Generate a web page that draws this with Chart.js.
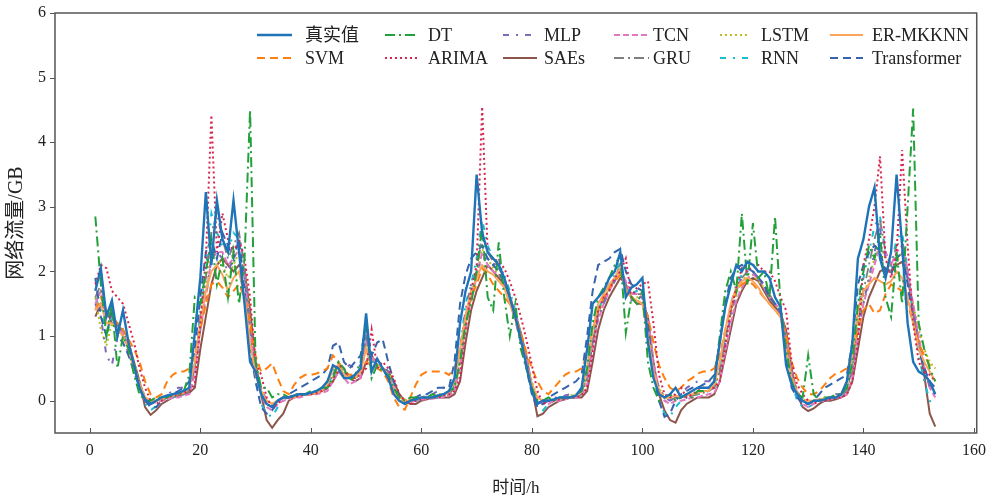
<!DOCTYPE html>
<html lang="zh">
<head>
<meta charset="UTF-8">
<title>网络流量预测对比</title>
<style>
  * { box-sizing: border-box; margin: 0; padding: 0; }
  html, body { width: 994px; height: 497px; background: #fff; overflow: hidden; }
  .wrap { position: relative; width: 994px; height: 497px; }
</style>
</head>
<body>
<div class="wrap"><canvas id="flowChart" width="994" height="497"></canvas></div>
<script src="https://cdn.jsdelivr.net/npm/chart.js@4.4.1/dist/chart.umd.min.js"></script>
<script>
// hour index 1..153
const hours = Array.from({ length: 153 }, (_, i) => i + 1);
const xTicks = [0, 20, 40, 60, 80, 100, 120, 140, 160];
const yTicks = [0, 1, 2, 3, 4, 5, 6];

const trueFlow = [
  1.7, 2.05, 1.3, 1.55, 1.0, 1.4, 0.9, 0.55, 0.2, 0.02,
  -0.05, 0.0, 0.05, 0.08, 0.1, 0.12, 0.15, 0.2, 1.05, 1.9,
  3.23, 2.1, 3.1, 2.5, 2.3, 3.1, 2.3, 1.5, 0.6, 0.45,
  0.1, -0.05, -0.1, 0.0, 0.05, 0.05, 0.08, 0.1, 0.1, 0.12,
  0.15, 0.2, 0.3, 0.55, 0.5, 0.35, 0.35, 0.4, 0.5, 1.35,
  0.45, 0.65, 0.5, 0.35, 0.1, 0.0, -0.05, 0.0, 0.02, 0.05,
  0.05, 0.05, 0.08, 0.1, 0.15, 0.35, 1.2, 1.7, 2.0, 3.5,
  2.6, 2.3, 2.2, 2.1, 1.9, 1.6, 1.3, 0.95, 0.55, 0.15,
  -0.05, 0.0, 0.0, 0.02, 0.05, 0.05, 0.05, 0.08, 0.2, 0.8,
  1.5, 1.6, 1.7, 1.9, 2.0, 2.3, 1.6, 1.75, 1.8, 1.9,
  0.9, 0.35, 0.1, 0.05, 0.1, 0.2, 0.05, 0.1, 0.15, 0.2,
  0.2, 0.2, 0.3, 0.9, 1.45, 1.8, 2.1, 2.0, 2.15, 2.1,
  2.0, 2.0, 1.9, 1.6, 1.45, 0.55, 0.25, 0.1, 0.0, -0.05,
  0.0, 0.0, 0.02, 0.05, 0.05, 0.1, 0.3, 0.9, 2.2, 2.5,
  3.0, 3.3, 2.2, 1.9, 2.3, 3.5, 2.4, 1.2, 0.6, 0.45,
  0.4, 0.3, 0.1
];

const svmPred = [
  1.4, 1.6, 1.4, 1.3, 1.2, 1.1, 0.95, 0.8, 0.6, 0.3,
  0.1, 0.05, 0.1, 0.3, 0.4, 0.45, 0.45, 0.5, 0.7, 1.1,
  1.5, 1.8, 1.85, 1.75, 1.6, 1.7, 1.8, 1.6, 1.2, 0.7,
  0.45, 0.5, 0.58, 0.35, 0.15, 0.1, 0.25, 0.35, 0.4, 0.4,
  0.42, 0.45, 0.5, 0.7, 0.6, 0.45, 0.4, 0.4, 0.45, 0.6,
  0.55, 0.5, 0.45, 0.3, 0.05, -0.1, -0.14, 0.05, 0.25, 0.4,
  0.45, 0.45, 0.45, 0.45, 0.4, 0.5, 0.8, 1.3, 1.6, 1.8,
  2.05, 1.95, 1.8, 1.7, 1.6, 1.5, 1.3, 1.05, 0.75, 0.5,
  0.3, 0.15, 0.1, 0.2, 0.3, 0.4, 0.45, 0.45, 0.5, 0.7,
  1.1, 1.4, 1.6, 1.75, 1.85, 1.95, 1.75, 1.6, 1.55, 1.5,
  1.3, 0.9, 0.55, 0.35, 0.2, 0.15, 0.2, 0.3, 0.35, 0.42,
  0.45, 0.45, 0.5, 0.7, 1.1, 1.45, 1.7, 1.8, 1.85, 1.8,
  1.7, 1.6, 1.5, 1.4, 1.3, 1.0, 0.6, 0.35, 0.2, 0.1,
  0.1, 0.15, 0.25, 0.35, 0.42, 0.45, 0.5, 0.7, 1.1, 1.4,
  1.5, 1.35, 1.4, 1.65, 1.8, 1.75, 1.7, 1.5, 1.2, 0.9,
  0.7, 0.55, 0.5
];

const dtPred = [
  2.85, 1.8, 1.0, 1.5, 0.5, 1.0, 0.8, 0.4, 0.1, 0.0,
  0.0, 0.05, 0.05, 0.05, 0.1, 0.1, 0.15, 0.4, 1.6, 1.5,
  2.0, 2.5, 1.8, 2.2, 1.6, 2.3, 1.5, 2.2, 4.5, 0.6,
  0.2, 0.2, 0.05, 0.1, 0.1, 0.05, 0.1, 0.1, 0.1, 0.15,
  0.15, 0.2, 0.2, 0.35, 0.6, 0.5, 0.3, 0.4, 0.6, 1.2,
  0.35, 0.55, 0.45, 0.4, 0.2, 0.05, 0.0, 0.05, 0.05, 0.05,
  0.05, 0.1, 0.05, 0.1, 0.15, 0.2, 0.6, 1.2, 1.5, 2.0,
  2.7, 1.6, 1.4, 2.45, 1.6, 1.0, 1.5, 0.8, 0.5, 0.2,
  0.0, 0.0, 0.05, 0.0, 0.05, 0.05, 0.05, 0.1, 0.15, 0.5,
  1.2, 1.6, 1.75, 1.9, 2.1, 2.25, 1.05, 1.6, 1.5, 1.7,
  0.6, 0.2, 0.0, 0.05, 0.1, 0.0, 0.05, 0.1, 0.05, 0.15,
  0.15, 0.2, 0.3, 1.0, 1.7, 2.0, 1.7, 2.9, 1.8, 2.75,
  1.9, 2.0, 1.6, 2.85, 1.5, 0.8, 0.3, 0.1, 0.05, 0.7,
  0.1, 0.0, 0.05, 0.05, 0.1, 0.1, 0.2, 0.6, 1.5, 2.0,
  2.4, 2.2, 2.6, 1.6, 1.3, 2.3, 1.5, 3.0, 4.52, 1.2,
  0.8, 0.5, 0.3
];

const arimaPred = [
  1.8, 2.1, 2.05, 1.7, 1.6, 1.5, 1.2, 0.9, 0.5, 0.2,
  0.0, -0.05, 0.0, 0.05, 0.08, 0.1, 0.12, 0.15, 0.25, 1.2,
  2.2, 4.42, 2.3, 2.9, 2.5, 2.3, 2.5, 2.2, 1.6, 0.6,
  0.4, 0.05, -0.1, -0.05, 0.05, 0.05, 0.05, 0.08, 0.1, 0.1,
  0.12, 0.15, 0.2, 0.3, 0.55, 0.5, 0.35, 0.35, 0.4, 0.5,
  1.1, 0.5, 0.6, 0.5, 0.35, 0.1, 0.0, -0.05, 0.0, 0.02,
  0.05, 0.05, 0.05, 0.08, 0.1, 0.15, 0.35, 1.1, 1.7, 2.1,
  4.55, 2.3, 2.2, 2.15, 2.05, 1.85, 1.6, 1.3, 0.95, 0.55,
  0.15, -0.05, 0.0, 0.0, 0.02, 0.05, 0.05, 0.05, 0.08, 0.2,
  0.75, 1.4, 1.6, 1.7, 1.9, 2.0, 2.2, 1.6, 1.75, 1.8,
  1.85, 1.2, 0.4, 0.1, 0.05, 0.1, 0.2, 0.05, 0.1, 0.15,
  0.2, 0.2, 0.2, 0.3, 0.85, 1.4, 1.75, 2.05, 2.0, 2.1,
  2.1, 2.0, 2.0, 1.85, 1.6, 1.4, 0.6, 0.25, 0.1, 0.0,
  -0.05, 0.0, 0.0, 0.02, 0.05, 0.05, 0.1, 0.3, 0.9, 2.1,
  2.5, 3.0, 3.78, 2.2, 1.9, 2.3, 3.88, 2.4, 1.2, 0.6,
  0.45, 0.4, 0.3
];

const mlpPred = [
  1.5, 1.3, 0.7, 0.55, 1.0, 0.9, 0.75, 0.5, 0.25, 0.05,
  0.0, 0.0, 0.05, 0.1, 0.15, 0.2, 0.2, 0.25, 0.5, 1.1,
  1.6, 2.2, 2.3, 2.2, 2.0, 2.2, 2.4, 1.9, 1.1, 0.5,
  0.2, 0.0, -0.1, 0.0, 0.05, 0.05, 0.1, 0.1, 0.1, 0.12,
  0.15, 0.2, 0.3, 0.4, 0.55, 0.5, 0.55, 0.5, 0.55, 1.0,
  0.6, 0.6, 0.55, 0.45, 0.2, 0.05, 0.0, 0.0, 0.05, 0.05,
  0.08, 0.1, 0.15, 0.2, 0.25, 0.3, 0.8, 1.4, 1.8, 2.0,
  2.2, 2.2, 2.1, 2.2, 1.9, 1.6, 1.35, 1.0, 0.6, 0.2,
  0.0, -0.05, 0.0, 0.05, 0.05, 0.08, 0.1, 0.1, 0.15, 0.4,
  0.9, 1.3, 1.5, 1.7, 1.85, 2.1, 1.7, 1.55, 1.6, 1.6,
  1.1, 0.5, 0.2, 0.05, 0.0, 0.05, 0.1, 0.2, 0.25, 0.3,
  0.3, 0.3, 0.3, 0.5, 0.9, 1.3, 1.7, 1.9, 2.0, 2.0,
  1.9, 1.75, 1.6, 1.5, 1.35, 0.9, 0.4, 0.15, 0.0, -0.05,
  0.0, 0.02, 0.05, 0.05, 0.1, 0.1, 0.2, 0.5, 1.1, 1.5,
  1.9, 2.3, 2.65, 2.2, 2.0, 2.2, 2.3, 1.9, 1.4, 0.9,
  0.5, 0.2, 0.1
];

const saesPred = [
  1.3, 1.5, 1.4, 1.2, 1.2, 1.0, 0.9, 0.6, 0.3, -0.1,
  -0.22, -0.15, -0.05, 0.0, 0.05, 0.08, 0.1, 0.12, 0.2, 0.8,
  1.3, 1.8, 2.1, 2.2, 2.1, 2.0, 2.1, 2.0, 1.4, 0.6,
  0.1, -0.3, -0.42, -0.3, -0.2, 0.0, 0.05, 0.08, 0.1, 0.1,
  0.12, 0.15, 0.2, 0.3, 0.45, 0.4, 0.35, 0.3, 0.35, 0.6,
  0.7, 0.55, 0.5, 0.45, 0.3, 0.1, 0.0, -0.05, -0.05, 0.0,
  0.02, 0.05, 0.05, 0.05, 0.05, 0.1, 0.3, 0.9, 1.4, 1.7,
  1.9, 2.1, 2.0, 1.9, 1.8, 1.6, 1.35, 1.05, 0.7, 0.2,
  -0.24, -0.2, -0.1, -0.05, 0.0, 0.02, 0.05, 0.05, 0.05, 0.15,
  0.6, 1.1, 1.4, 1.6, 1.75, 1.9, 1.8, 1.6, 1.5, 1.5,
  1.3, 0.6, 0.1, -0.15, -0.3, -0.34, -0.15, -0.05, 0.0, 0.05,
  0.05, 0.05, 0.1, 0.3, 0.7, 1.1, 1.5, 1.7, 1.85, 1.9,
  1.85, 1.7, 1.55, 1.45, 1.35, 1.1, 0.5, 0.1, -0.1, -0.16,
  -0.12, -0.05, 0.0, 0.0, 0.02, 0.05, 0.1, 0.3, 0.8, 1.3,
  1.6, 1.8, 2.0, 2.05, 2.0, 2.1, 2.15, 1.9, 1.4, 0.9,
  0.4, -0.2, -0.4
];

const tcnPred = [
  1.5, 1.7, 1.3, 1.3, 1.1, 1.05, 0.85, 0.55, 0.25, 0.0,
  -0.05, -0.02, 0.0, 0.02, 0.05, 0.05, 0.08, 0.1, 0.4, 1.1,
  1.6, 2.2, 2.3, 2.3, 2.1, 2.2, 2.35, 1.9, 1.1, 0.45,
  0.1, -0.1, -0.15, -0.05, 0.0, 0.02, 0.05, 0.05, 0.08, 0.1,
  0.1, 0.12, 0.15, 0.3, 0.45, 0.35, 0.25, 0.3, 0.35, 0.9,
  0.7, 0.55, 0.5, 0.4, 0.2, 0.05, 0.0, -0.02, 0.0, 0.02,
  0.02, 0.03, 0.05, 0.05, 0.08, 0.15, 0.5, 1.1, 1.6, 1.9,
  2.3, 2.1, 2.0, 1.95, 1.85, 1.6, 1.35, 1.0, 0.65, 0.25,
  0.0, -0.05, -0.05, 0.0, 0.0, 0.02, 0.05, 0.05, 0.08, 0.25,
  0.8, 1.25, 1.5, 1.7, 1.85, 2.05, 1.85, 1.65, 1.65, 1.6,
  1.3, 0.6, 0.15, 0.0, -0.05, 0.0, 0.0, 0.02, 0.05, 0.05,
  0.08, 0.1, 0.12, 0.3, 0.75, 1.2, 1.55, 1.75, 1.9, 1.95,
  1.9, 1.75, 1.6, 1.5, 1.4, 1.0, 0.45, 0.1, -0.05, -0.1,
  -0.05, 0.0, 0.0, 0.02, 0.05, 0.05, 0.1, 0.35, 1.0, 1.5,
  1.8, 2.1, 2.4, 2.3, 2.1, 2.3, 2.4, 2.0, 1.5, 1.0,
  0.55, 0.2, 0.05
];

const gruPred = [
  1.6, 1.8, 1.35, 1.3, 1.15, 1.1, 0.85, 0.55, 0.25, 0.02,
  -0.05, 0.0, 0.02, 0.05, 0.05, 0.08, 0.1, 0.15, 0.5, 1.3,
  1.9, 2.6, 2.9, 2.5, 2.2, 2.4, 2.6, 2.1, 1.2, 0.5,
  0.15, -0.05, -0.1, -0.05, 0.02, 0.05, 0.05, 0.08, 0.1, 0.1,
  0.12, 0.15, 0.2, 0.4, 0.55, 0.45, 0.35, 0.35, 0.4, 1.0,
  0.7, 0.55, 0.5, 0.4, 0.2, 0.05, 0.0, 0.0, 0.02, 0.03,
  0.05, 0.05, 0.05, 0.08, 0.1, 0.2, 0.6, 1.3, 1.7, 2.0,
  2.55, 2.3, 2.15, 2.05, 1.9, 1.65, 1.35, 1.0, 0.6, 0.25,
  0.0, -0.05, 0.0, 0.0, 0.02, 0.05, 0.05, 0.05, 0.1, 0.35,
  0.9, 1.35, 1.55, 1.75, 1.9, 2.1, 1.8, 1.65, 1.65, 1.65,
  1.2, 0.55, 0.15, 0.0, 0.0, 0.05, 0.05, 0.05, 0.08, 0.1,
  0.12, 0.15, 0.2, 0.45, 0.95, 1.4, 1.7, 1.9, 2.0, 2.0,
  1.9, 1.8, 1.65, 1.5, 1.4, 0.95, 0.4, 0.1, -0.02, -0.05,
  0.0, 0.0, 0.02, 0.05, 0.05, 0.08, 0.15, 0.45, 1.2, 1.7,
  2.1, 2.5, 2.8, 2.3, 2.1, 2.4, 2.5, 2.0, 1.4, 0.9,
  0.5, 0.25, 0.1
];

const lstmPred = [
  1.6, 1.1, 0.85, 1.2, 1.1, 1.0, 0.85, 0.6, 0.3, 0.05,
  0.0, 0.0, 0.02, 0.05, 0.08, 0.1, 0.12, 0.2, 0.55, 1.2,
  1.8, 2.4, 2.2, 2.1, 1.9, 2.1, 2.3, 2.0, 1.3, 0.6,
  0.2, 0.0, -0.05, 0.0, 0.05, 0.05, 0.08, 0.1, 0.1, 0.12,
  0.15, 0.18, 0.2, 0.35, 0.5, 0.45, 0.4, 0.35, 0.45, 0.85,
  0.65, 0.55, 0.5, 0.45, 0.25, 0.05, 0.02, 0.0, 0.02, 0.05,
  0.05, 0.08, 0.1, 0.1, 0.12, 0.2, 0.6, 1.2, 1.6, 1.95,
  2.35, 2.2, 2.05, 1.95, 1.85, 1.6, 1.35, 1.0, 0.65, 0.3,
  0.05, 0.0, 0.0, 0.02, 0.05, 0.05, 0.08, 0.1, 0.12, 0.35,
  0.9, 1.3, 1.55, 1.75, 1.9, 2.1, 1.8, 1.6, 1.6, 1.6,
  1.15, 0.55, 0.2, 0.05, 0.02, 0.05, 0.05, 0.08, 0.1, 0.12,
  0.15, 0.15, 0.2, 0.45, 0.9, 1.35, 1.65, 1.85, 1.95, 1.95,
  1.85, 1.75, 1.6, 1.5, 1.4, 1.0, 0.45, 0.15, 0.02, 0.0,
  0.0, 0.02, 0.05, 0.05, 0.08, 0.1, 0.2, 0.5, 1.2, 1.6,
  1.9, 2.2, 2.4, 2.2, 2.0, 2.15, 2.3, 1.9, 1.5, 1.1,
  0.8, 0.6, 0.5
];

const rnnPred = [
  1.6, 1.4, 1.0, 1.3, 1.0, 1.1, 0.8, 0.5, 0.2, -0.05,
  -0.15, -0.08, 0.0, 0.05, 0.05, 0.08, 0.1, 0.15, 0.5, 1.4,
  2.0, 2.9, 2.6, 2.4, 2.3, 2.6, 2.5, 2.0, 1.0, 0.3,
  -0.05, -0.2, -0.25, -0.1, 0.0, 0.05, 0.05, 0.08, 0.1, 0.1,
  0.12, 0.15, 0.2, 0.45, 0.6, 0.45, 0.35, 0.35, 0.45, 1.1,
  0.6, 0.6, 0.5, 0.4, 0.15, 0.0, -0.05, -0.02, 0.0, 0.02,
  0.05, 0.05, 0.05, 0.08, 0.1, 0.25, 0.8, 1.5, 1.8, 2.2,
  2.8, 2.4, 2.2, 2.1, 1.95, 1.7, 1.4, 1.0, 0.55, 0.15,
  -0.1, -0.15, -0.05, 0.0, 0.02, 0.05, 0.05, 0.05, 0.1, 0.45,
  1.0, 1.4, 1.6, 1.8, 1.95, 2.15, 1.75, 1.65, 1.7, 1.7,
  1.1, 0.4, 0.0, -0.2, -0.25, -0.1, 0.0, 0.05, 0.08, 0.1,
  0.12, 0.15, 0.2, 0.5, 1.05, 1.5, 1.8, 1.95, 2.05, 2.0,
  1.9, 1.8, 1.65, 1.5, 1.4, 0.85, 0.3, 0.0, -0.1, -0.1,
  -0.05, 0.0, 0.02, 0.05, 0.05, 0.08, 0.2, 0.6, 1.4, 1.9,
  2.3, 2.7, 2.85, 2.3, 2.1, 2.5, 2.6, 2.0, 1.3, 0.7,
  0.3, 0.0, -0.1
];

const erMkknnPred = [
  1.4, 1.5, 1.2, 1.2, 1.1, 1.0, 0.8, 0.5, 0.25, 0.05,
  0.0, 0.0, 0.02, 0.05, 0.08, 0.1, 0.12, 0.2, 0.6, 1.2,
  1.7, 2.0, 2.1, 1.95, 1.7, 1.9, 2.0, 1.6, 0.9, 0.4,
  0.15, 0.0, -0.05, 0.0, 0.05, 0.05, 0.05, 0.08, 0.1, 0.1,
  0.12, 0.15, 0.25, 0.5, 0.55, 0.4, 0.35, 0.35, 0.45, 0.8,
  0.5, 0.55, 0.5, 0.4, 0.15, 0.0, 0.0, 0.0, 0.02, 0.05,
  0.05, 0.05, 0.08, 0.1, 0.12, 0.3, 0.8, 1.3, 1.7, 1.9,
  2.1, 2.0, 1.95, 1.85, 1.75, 1.5, 1.25, 0.95, 0.55, 0.25,
  0.05, 0.0, 0.0, 0.02, 0.03, 0.05, 0.05, 0.08, 0.15, 0.5,
  1.1, 1.5, 1.65, 1.8, 1.9, 2.05, 1.7, 1.6, 1.55, 1.5,
  1.0, 0.45, 0.15, 0.05, 0.05, 0.08, 0.05, 0.08, 0.1, 0.12,
  0.15, 0.15, 0.25, 0.6, 1.1, 1.5, 1.75, 1.85, 1.9, 1.85,
  1.75, 1.6, 1.5, 1.4, 1.3, 0.8, 0.35, 0.1, 0.0, 0.0,
  0.0, 0.02, 0.03, 0.05, 0.05, 0.1, 0.25, 0.7, 1.4, 1.7,
  1.8, 1.9, 1.85, 1.8, 1.85, 2.0, 1.9, 1.6, 1.2, 0.8,
  0.6, 0.45, 0.3
];

const transformerPred = [
  1.9, 1.3, 1.0, 1.4, 1.0, 0.9, 0.7, 0.45, 0.2, 0.0,
  -0.1, -0.1, 0.0, 0.05, 0.1, 0.15, 0.2, 0.3, 0.8, 1.6,
  2.3, 2.5, 2.2, 2.6, 2.4, 2.2, 2.5, 1.7, 0.8, 0.3,
  -0.1, -0.2, -0.15, 0.0, 0.05, 0.1, 0.15, 0.2, 0.25, 0.3,
  0.35, 0.4, 0.5, 0.85, 0.9, 0.6, 0.5, 0.6, 0.7, 1.2,
  0.7, 0.9, 0.95, 0.6, 0.3, 0.05, -0.05, 0.0, 0.05, 0.1,
  0.1, 0.15, 0.2, 0.2, 0.2, 0.6, 1.5, 1.95, 2.2, 2.3,
  2.4, 2.2, 2.1, 2.0, 1.8, 1.55, 1.25, 0.9, 0.5, 0.1,
  -0.1, -0.05, 0.05, 0.1, 0.15, 0.2, 0.25, 0.3, 0.4, 1.0,
  1.7, 2.1, 2.15, 2.2, 2.3, 2.35, 2.0, 1.8, 1.75, 1.7,
  1.2, 0.4, 0.0, -0.25, -0.2, 0.0, 0.1, 0.15, 0.2, 0.2,
  0.25, 0.3, 0.4, 0.9, 1.5, 1.9, 2.05, 2.1, 2.05, 2.0,
  1.9, 1.8, 1.6, 1.5, 1.4, 0.7, 0.2, 0.05, -0.05, -0.05,
  0.0, 0.1, 0.2, 0.25, 0.3, 0.35, 0.4, 0.9, 1.8, 2.1,
  2.3, 2.4, 2.3, 2.0, 1.95, 2.2, 2.3, 1.8, 1.2, 0.8,
  0.5, 0.3, 0.2
];

// legend layout: column, row
const series = [
  { label: '真实值', data: trueFlow, color: '#1f74b8', dash: [], width: 2.4, col: 0, row: 0 },
  { label: 'DT', data: dtPred, color: '#22a03a', dash: [10, 4, 2, 4], width: 2, col: 1, row: 0 },
  { label: 'ARIMA', data: arimaPred, color: '#d6254f', dash: [2, 3], width: 2, col: 1, row: 1 },
  { label: 'ER-MKKNN', data: erMkknnPred, color: '#fba55c', dash: [], width: 2, col: 5, row: 0 },
  { label: 'SVM', data: svmPred, color: '#ff7f0e', dash: [8, 5], width: 2, col: 0, row: 1 },
  { label: 'Transformer', data: transformerPred, color: '#3563ad', dash: [8, 5], width: 2, col: 5, row: 1 },
  { label: 'MLP', data: mlpPred, color: '#7d6ab8', dash: [6, 7, 2, 7], width: 2, col: 2, row: 0 },
  { label: 'TCN', data: tcnPred, color: '#e377c2', dash: [6, 3], width: 2, col: 3, row: 0 },
  { label: 'GRU', data: gruPred, color: '#7f7f7f', dash: [10, 4, 2, 4], width: 1.8, col: 3, row: 1 },
  { label: 'LSTM', data: lstmPred, color: '#bcbd22', dash: [2, 3], width: 2, col: 4, row: 0 },
  { label: 'RNN', data: rnnPred, color: '#17becf', dash: [6, 7, 2, 7], width: 2, col: 4, row: 1 },
  { label: 'SAEs', data: saesPred, color: '#8c564b', dash: [], width: 2, col: 2, row: 1 }
];

const serif = '"Liberation Serif", "Noto Sans CJK SC", serif';
const textColor = '#222';

const legendCols = [
  { lineX: 257, len: 35, textX: 305 },
  { lineX: 385, len: 33, textX: 428 },
  { lineX: 503, len: 34, textX: 544 },
  { lineX: 614, len: 35, textX: 653 },
  { lineX: 720, len: 28, textX: 761 },
  { lineX: 830, len: 33, textX: 872 }
];
const legendRows = [35, 58];

const framePlugin = {
  id: 'frame',
  afterDraw(chart) {
    const { ctx, chartArea: a, scales } = chart;
    ctx.save();
    ctx.strokeStyle = '#555';
    ctx.lineWidth = 1.5;
    ctx.strokeRect(a.left, a.top, a.right - a.left, a.bottom - a.top);
    ctx.lineWidth = 1;
    ctx.beginPath();
    xTicks.forEach(v => {
      const px = Math.round(scales.x.getPixelForValue(v)) + 0.5;
      ctx.moveTo(px, a.bottom);
      ctx.lineTo(px, a.bottom - 5);
    });
    yTicks.forEach(v => {
      const py = Math.round(scales.y.getPixelForValue(v)) + 0.5;
      ctx.moveTo(a.left - 5, py);
      ctx.lineTo(a.left, py);
    });
    ctx.stroke();

    // legend, two rows of six
    ctx.font = '18px ' + serif;
    ctx.textBaseline = 'middle';
    ctx.fillStyle = textColor;
    series.forEach(s => {
      const c = legendCols[s.col];
      const y = legendRows[s.row];
      ctx.strokeStyle = s.color;
      ctx.lineWidth = s.width;
      ctx.setLineDash(s.dash);
      ctx.beginPath();
      ctx.moveTo(c.lineX, y);
      ctx.lineTo(c.lineX + c.len, y);
      ctx.stroke();
      ctx.setLineDash([]);
      ctx.fillText(s.label, c.textX, y + 1);
    });
    ctx.restore();
  }
};

new Chart(document.getElementById('flowChart'), {
  type: 'line',
  data: {
    datasets: series.map(s => ({
      label: s.label,
      data: hours.map((h, i) => ({ x: h, y: s.data[i] })),
      borderColor: s.color,
      borderWidth: s.width,
      borderDash: s.dash,
      pointRadius: 0,
      tension: 0,
      fill: false
    }))
  },
  options: {
    responsive: false,
    animation: false,
    devicePixelRatio: 1,
    layout: { padding: { top: 13, right: 15, left: 0, bottom: 0 } },
    plugins: { legend: { display: false }, tooltip: { enabled: false } },
    scales: {
      x: {
        type: 'linear',
        min: -6.3,
        max: 160.5,
        afterBuildTicks: s => { s.ticks = xTicks.map(v => ({ value: v })); },
        afterFit: s => { s.height = 64; },
        grid: { display: false, drawTicks: false },
        border: { display: false },
        ticks: { color: textColor, font: { family: serif, size: 16 }, padding: 8, maxRotation: 0 },
        title: { display: true, text: '时间/h', color: textColor, font: { family: serif, size: 17, lineHeight: 1.0 }, padding: 0 }
      },
      y: {
        min: -0.5,
        max: 6,
        afterBuildTicks: s => { s.ticks = yTicks.map(v => ({ value: v })); },
        afterFit: s => { s.width = 55; s.paddingTop = 0; s.paddingBottom = 0; },
        grid: { display: false, drawTicks: false },
        border: { display: false },
        ticks: { color: textColor, font: { family: serif, size: 16 }, padding: 9 },
        title: { display: true, text: '网络流量/GB', color: textColor, font: { family: serif, size: 20, lineHeight: 1.0 }, padding: { top: 7, bottom: 0 } }
      }
    }
  },
  plugins: [framePlugin]
});
</script>
</body>
</html>
